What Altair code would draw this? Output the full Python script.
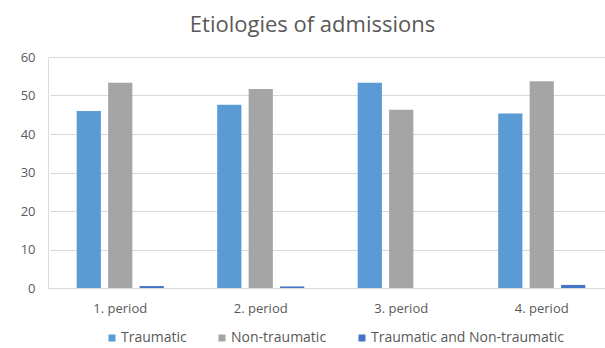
import altair as alt
import pandas as pd

periods = ["1. period", "2. period", "3. period", "4. period"]
series = ["Traumatic", "Non-traumatic", "Traumatic and Non-traumatic"]
traumatic = [46.0, 47.6, 53.3, 45.3]
non_traumatic = [53.3, 51.7, 46.3, 53.7]
both = [0.5, 0.4, 0.0, 0.8]
colors = ["#5B9BD5", "#A5A5A5", "#4472C4"]

rows = []
for i, p in enumerate(periods):
    for s, vals in zip(series, [traumatic, non_traumatic, both]):
        rows.append({"period": p, "series": s, "value": vals[i]})
df = pd.DataFrame(rows)

FONT = "Open Sans"
TXT = "#595959"

chart = alt.Chart(df).mark_bar().encode(
    x=alt.X("period:N", sort=periods, title=None,
            scale=alt.Scale(paddingInner=0.38, paddingOuter=0.19, range=[2, 564]),
            axis=alt.Axis(labelAngle=0, ticks=False, domainColor="#D9D9D9",
                          labelColor=TXT, labelFont=FONT, labelFontSize=13,
                          labelPadding=14)),
    xOffset=alt.XOffset("series:N", sort=series,
                        scale=alt.Scale(paddingInner=0.23, paddingOuter=0)),
    y=alt.Y("value:Q", title=None,
            scale=alt.Scale(domain=[0, 60]),
            axis=alt.Axis(values=[0, 10, 20, 30, 40, 50, 60], domain=False, ticks=False,
                          gridColor="#D9D9D9", labelColor=TXT, labelFont=FONT,
                          labelFontSize=13, labelPadding=13)),
    color=alt.Color("series:N", sort=series,
                    scale=alt.Scale(domain=series, range=colors),
                    legend=alt.Legend(title=None, orient="none", direction="horizontal",
                                      legendX=57, legendY=274, symbolType="square",
                                      symbolSize=49, symbolStrokeWidth=0,
                                      labelFont=FONT, labelFontSize=14, labelColor=TXT,
                                      labelOffset=2, columnPadding=28, padding=0,
                                      labelLimit=400)),
).properties(
    width=557, height=231,
    title=alt.TitleParams("Etiologies of admissions", font=FONT, fontSize=22,
                          fontWeight="normal", color=TXT, anchor="middle", offset=14,
                          dx=-14),
    autosize=alt.AutoSizeParams(type="none"),
    padding={"left": 48, "top": 57, "right": 0, "bottom": 60},
).configure_view(stroke=None).configure(background="white")

chart.save("out.html", embed_options={"renderer": "svg", "actions": False})
